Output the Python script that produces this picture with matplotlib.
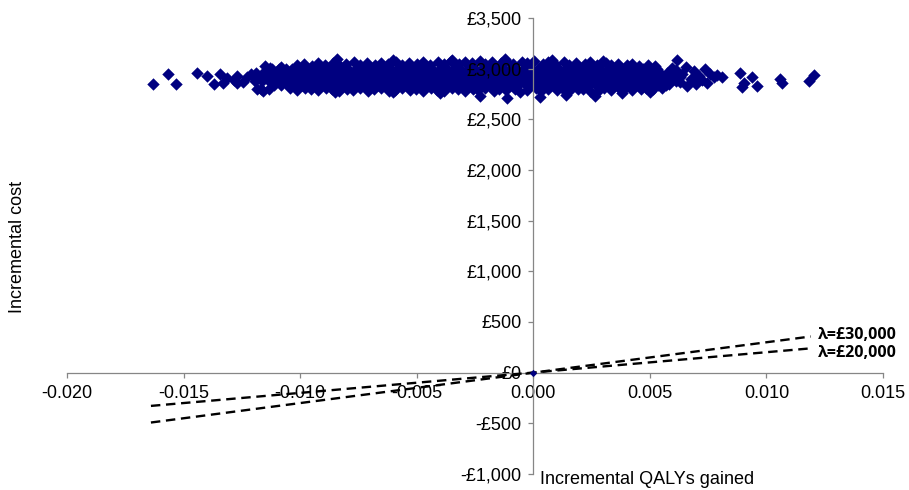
import numpy as np
import matplotlib
matplotlib.use( 'Agg' )
import matplotlib.pyplot as plt
from matplotlib.ticker import FuncFormatter

#
# Data. QALYs are written in units of 1e-4, costs in pounds.
#

# Dense core of the cloud: one list of incremental QALYs per cost level.
core_costs = [ 2840, 2880, 2920, 2960, 3000 ]
core_qalys = [
    [ -111, -108, -105, -102.5, -99, -96, -93, -90.5, -87, -84, -81, -78.5, -75, -72, -69, -66.5,
      -63, -60, -57, -54.5, -51, -48, -45, -42.5, -39, -36, -33, -30.5, -27, -24, -21, -18.5,
      -15, -12, -9, -6.5, -3, 0, 3, 5.5, 9, 12, 15, 17.5, 21, 24, 27, 29.5, 33, 36, 39, 41.5,
      45, 48, 51, 53.5, 57 ],
    [ -116.5, -113.5, -110, -107.5, -104.5, -101.5, -98, -95.5, -92.5, -89.5, -86, -83.5, -80.5,
      -77.5, -74, -71.5, -68.5, -65.5, -62, -59.5, -56.5, -53.5, -50, -47.5, -44.5, -41.5, -38,
      -35.5, -32.5, -29.5, -26, -23.5, -20.5, -17.5, -14, -11.5, -8.5, -5.5, -2, 0.5, 3.5, 6.5,
      10, 12.5, 15.5, 18.5, 22, 24.5, 27.5, 30.5, 34, 36.5, 39.5, 42.5, 46, 48.5, 51.5, 54.5, 58, 61 ],
    [ -117, -114, -111.5, -108, -105, -102, -99.5, -96, -93, -90, -87.5, -84, -81, -78, -75.5, -72,
      -69, -66, -63.5, -60, -57, -54, -51.5, -48, -45, -42, -39.5, -36, -33, -30, -27.5, -24, -21,
      -18, -15.5, -12, -9, -6, -3.5, 0, 3, 6, 8.5, 12, 15, 18, 20.5, 24, 27, 30, 32.5, 36, 39, 42,
      44.5, 48, 51, 54, 56.5, 60, 63 ],
    [ -116, -113, -110.5, -107.5, -104, -101.5, -98.5, -95.5, -92, -89.5, -86.5, -83.5, -80, -77.5,
      -74.5, -71.5, -68, -65.5, -62.5, -59.5, -56, -53.5, -50.5, -47.5, -44, -41.5, -38.5, -35.5,
      -32, -29.5, -26.5, -23.5, -20, -17.5, -14.5, -11.5, -8, -5.5, -2.5, 0.5, 4, 6.5, 9.5, 12.5,
      16, 18.5, 21.5, 24.5, 28, 30.5, 33.5, 36.5, 40, 42.5, 45.5, 48.5, 52, 54.5, 57.5, 60.5 ],
    [ -112, -109, -106, -103.5, -100, -97, -94, -91.5, -88, -85, -82, -79.5, -76, -73, -70, -67.5,
      -64, -61, -58, -55.5, -52, -49, -46, -43.5, -40, -37, -34, -31.5, -28, -25, -22, -19.5, -16,
      -13, -10, -7.5, -4, -1, 2, 4.5, 8, 11, 14, 16.5, 20, 23, 26, 28.5, 32, 35, 38, 40.5, 44, 47,
      50, 53 ],
]

# Lower rim of the cloud, ( QALY, cost ).
lower_rim = [
    ( -104.5, 2805 ), ( -101.5, 2790 ), ( -98, 2812 ), ( -95.5, 2798 ), ( -92.5, 2785 ), ( -89, 2808 ),
    ( -86.5, 2795 ), ( -83.5, 2780 ), ( -80, 2802 ), ( -77.5, 2790 ), ( -74.5, 2810 ), ( -71, 2784 ),
    ( -68.5, 2797 ), ( -65.5, 2806 ), ( -62, 2782 ), ( -59.5, 2793 ), ( -56.5, 2810 ), ( -53, 2787 ),
    ( -50.5, 2800 ), ( -47.5, 2778 ), ( -44, 2805 ), ( -41.5, 2791 ), ( -38.5, 2783 ), ( -35, 2808 ),
    ( -32.5, 2795 ), ( -29.5, 2776 ), ( -26, 2801 ), ( -23.5, 2789 ), ( -20.5, 2807 ), ( -17, 2781 ),
    ( -14.5, 2796 ), ( -11.5, 2785 ), ( -8, 2803 ), ( -5.5, 2774 ), ( -2.5, 2792 ), ( 1, 2806 ),
    ( 3.5, 2780 ), ( 6.5, 2798 ), ( 10, 2787 ), ( 12.5, 2809 ), ( 15.5, 2783 ), ( 19, 2795 ),
    ( 21.5, 2802 ), ( 24.5, 2779 ), ( 28, 2790 ), ( 30.5, 2806 ), ( 33.5, 2786 ), ( 37, 2799 ),
    ( 39.5, 2808 ), ( 42.5, 2792 ), ( 46, 2803 ), ( 48.5, 2811 ), ( 51.5, 2796 ), ( 55, 2812 ),
    ( -85, 2772 ), ( -60, 2770 ), ( -40, 2760 ), ( -22.7, 2735 ), ( -11.3, 2715 ), ( 3, 2722 ),
    ( 14, 2740 ), ( 26.6, 2728 ), ( 38, 2755 ), ( 50, 2770 ),
]

# Upper rim of the cloud, ( QALY, cost ).
upper_rim = [
    ( -101.5, 3035 ), ( -98.5, 3048 ), ( -95, 3030 ), ( -92.5, 3052 ), ( -89.5, 3040 ), ( -86, 3058 ),
    ( -83.5, 3036 ), ( -80.5, 3050 ), ( -77, 3062 ), ( -74.5, 3041 ), ( -71.5, 3055 ), ( -68, 3034 ),
    ( -65.5, 3060 ), ( -62.5, 3045 ), ( -59, 3068 ), ( -56.5, 3039 ), ( -53.5, 3057 ), ( -50, 3046 ),
    ( -47.5, 3070 ), ( -44.5, 3038 ), ( -41, 3061 ), ( -38.5, 3049 ), ( -35.5, 3072 ), ( -32, 3043 ),
    ( -29.5, 3064 ), ( -26.5, 3052 ), ( -23, 3075 ), ( -20.5, 3044 ), ( -17.5, 3066 ), ( -14, 3055 ),
    ( -11.5, 3078 ), ( -8.5, 3047 ), ( -5, 3069 ), ( -2.5, 3058 ), ( 0.5, 3073 ), ( 4, 3046 ),
    ( 6.5, 3062 ), ( 9.5, 3050 ), ( 13, 3067 ), ( 15.5, 3040 ), ( 18.5, 3058 ), ( 22, 3044 ),
    ( 24.5, 3061 ), ( 27.5, 3038 ), ( 31, 3052 ), ( 33.5, 3036 ), ( 36.5, 3049 ), ( 40, 3033 ),
    ( 42.5, 3046 ), ( 45.5, 3031 ), ( 49, 3040 ), ( 52, 3028 ),
    ( -84, 3096 ), ( -60, 3085 ), ( -35, 3090 ), ( -12, 3100 ), ( 8, 3085 ), ( 30, 3080 ), ( 61.6, 3087 ),
]

# Sparse points at both ends of the cloud and the outliers, ( QALY, cost ).
tail_points = [
    ( -163.1, 2847 ), ( -156.8, 2949 ), ( -153.2, 2853 ), ( -144.2, 2956 ), ( -139.9, 2929 ),
    ( -137.1, 2850 ), ( -134.2, 2949 ), ( -132.9, 2860 ), ( -131.3, 2909 ), ( -128.5, 2885 ),
    ( -127.1, 2929 ), ( -127.1, 2860 ), ( -122.8, 2922 ), ( -124.5, 2870 ), ( -121, 2945 ),
    ( -118.8, 2962 ), ( -114.9, 3028 ), ( -118.5, 2800 ), ( -115.8, 2784 ), ( -117, 2795 ),
    ( -113.5, 2800 ), ( -119.5, 2880 ), ( -120, 2925 ), ( -113, 3005 ), ( -108, 3020 ),
    ( 58, 2850 ), ( 59.5, 3010 ), ( 61, 2985 ), ( 63, 2870 ), ( 64, 2945 ), ( 65.5, 3020 ),
    ( 66, 2830 ), ( 67.5, 2900 ), ( 69, 2975 ), ( 70, 2845 ), ( 71, 2930 ), ( 72.5, 2885 ),
    ( 73.5, 3000 ), ( 74.5, 2860 ), ( 76, 2950 ), ( 77.5, 2920 ), ( 79, 2935 ), ( 80.9, 2916 ),
    ( 88.8, 2962 ), ( 93.8, 2922 ), ( 90.2, 2857 ), ( 89.5, 2818 ), ( 95.9, 2830 ), ( 105.9, 2896 ),
    ( 106.6, 2857 ), ( 118.1, 2880 ), ( 120.6, 2939 ),
]

# Willingness-to-pay lines, end points.
wtp_labels = [ 'λ=£30,000', 'λ=£20,000' ]
wtp_x = [ -0.0164, 0.0119 ]
wtp_y = [ [ -492, 357 ], [ -328, 240 ] ]
wtp_label_y = [ 372, 197 ]

x_ticks = [ -0.020, -0.015, -0.010, -0.005, 0.000, 0.005, 0.010, 0.015 ]
y_ticks = [ -1000, -500, 0, 500, 1000, 1500, 2000, 2500, 3000, 3500 ]

point_colour = '#000080'
axis_colour = '#868686'


def pounds( v, pos ):
    v = int( round( v ) )
    sign = '-' if v < 0 else ''
    return sign + '£' + format( abs( v ), ',' )


def collect_points( ):

    qalys = []
    costs = []
    for cost, row in zip( core_costs, core_qalys ):
        qalys += row
        costs += [ cost ] * len( row )
    for group in ( lower_rim, upper_rim, tail_points ):
        for q, c in group:
            qalys.append( q )
            costs.append( c )

    return np.array( qalys ) / 1e4, np.array( costs )


def make_plot( ):

    plt.rcParams['font.family'] = [ 'Liberation Sans', 'DejaVu Sans' ]
    plt.rcParams['axes.unicode_minus'] = False

    fig = plt.figure( figsize = ( 9.09, 4.90 ), dpi = 100 )
    ax = fig.add_axes( [ 67 / 909, 16 / 490, 816 / 909, 456 / 490 ] )

    #
    # The cloud of simulated results.
    #
    qalys, costs = collect_points( )
    ax.scatter( qalys, costs, marker = 'D', s = 40, color = point_colour, linewidths = 0, zorder = 1 )
    ax.scatter( [ 0 ], [ 0 ], marker = 'D', s = 14, color = point_colour, linewidths = 0, zorder = 4 )

    #
    # Threshold lines.
    #
    for label, ys, ly in zip( wtp_labels, wtp_y, wtp_label_y ):
        ax.plot( wtp_x, ys, color = 'black', lw = 1.7, linestyle = ( 0, ( 4, 2.4 ) ), zorder = 3 )
        ax.text( 0.01222, ly, label, ha = 'left', va = 'center', fontsize = 11.5,
                 fontweight = 'bold', family = [ 'Open Sans', 'DejaVu Sans' ] )

    #
    # Axes crossing at the origin.
    #
    ax.set_xlim( -0.020, 0.015 )
    ax.set_ylim( -1000, 3500 )
    ax.spines['left'].set_position( ( 'data', 0 ) )
    ax.spines['bottom'].set_position( ( 'data', 0 ) )
    ax.spines['top'].set_visible( False )
    ax.spines['right'].set_visible( False )
    for s in ( 'left', 'bottom' ):
        ax.spines[s].set_color( axis_colour )
        ax.spines[s].set_linewidth( 0.9 )

    ax.set_xticks( x_ticks )
    ax.set_yticks( y_ticks )
    ax.xaxis.set_major_formatter( FuncFormatter( lambda v, p: '%.3f' % v ) )
    ax.yaxis.set_major_formatter( FuncFormatter( pounds ) )
    ax.tick_params( direction = 'out', length = 3.6, width = 0.9, color = axis_colour,
                    labelsize = 13, pad = 5 )

    fig.text( 18 / 909, 1 - 247 / 490, 'Incremental cost', rotation = 90,
              ha = 'center', va = 'center', fontsize = 13 )
    fig.text( 540 / 909, 1 - 479 / 490, 'Incremental QALYs gained',
              ha = 'left', va = 'center', fontsize = 13 )

    fig.savefig( 'out.png', dpi = 100 )


if __name__ == '__main__':

    make_plot( )
